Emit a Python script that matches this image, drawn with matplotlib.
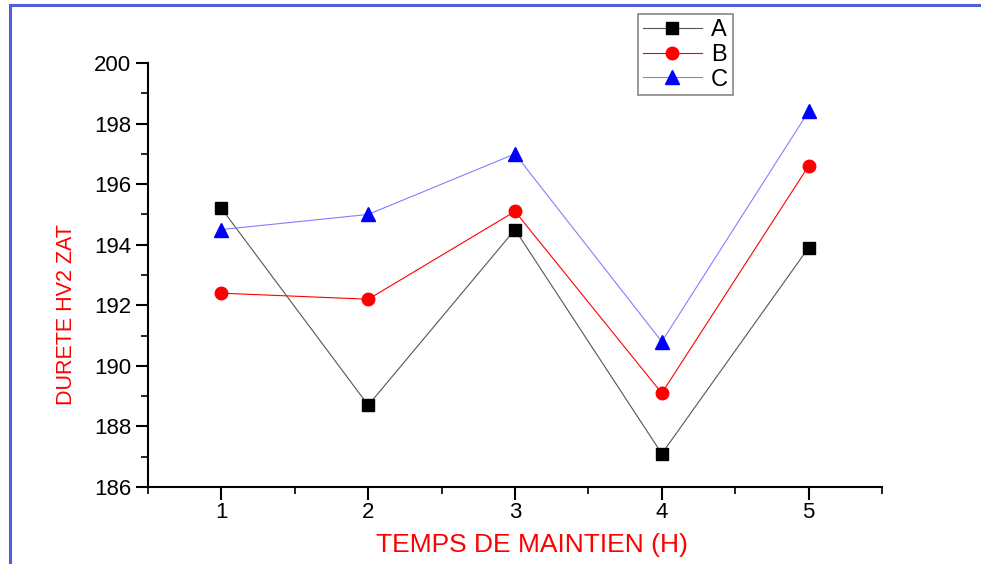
import matplotlib
matplotlib.use("Agg")
import matplotlib.pyplot as plt
from matplotlib.lines import Line2D
from matplotlib.ticker import MultipleLocator

plt.rcParams['font.family'] = ['Liberation Sans', 'DejaVu Sans']

temps = [1, 2, 3, 4, 5]
serie_a = [195.2, 188.7, 194.5, 187.1, 193.9]
serie_b = [192.4, 192.2, 195.1, 189.1, 196.6]
serie_c = [194.5, 195.0, 197.0, 190.8, 198.4]

fig = plt.figure(figsize=(9.81, 5.64), dpi=100)
ax = fig.add_axes([148 / 981, 77 / 564, 734 / 981, 424 / 564])

ax.plot(temps, serie_a, color='#555555', lw=0.8, marker='s', ms=8,
        mfc='black', mec='black', label='A')
ax.plot(temps, serie_b, color='red', lw=0.8, marker='o', ms=9,
        mfc='red', mec='red', label='B')
ax.plot(temps, serie_c, color='#8080ff', lw=0.8, marker='^', ms=10,
        mfc='blue', mec='blue', label='C')

ax.set_xlim(0.5, 5.5)
ax.set_ylim(186, 200)
ax.xaxis.set_major_locator(MultipleLocator(1))
ax.xaxis.set_minor_locator(MultipleLocator(0.5))
ax.yaxis.set_major_locator(MultipleLocator(2))
ax.yaxis.set_minor_locator(MultipleLocator(1))
ax.set_xticks([1, 2, 3, 4, 5])
ax.tick_params(which='major', direction='out', length=9, width=1.5,
               labelsize=16, pad=3)
ax.tick_params(axis='x', which='major', pad=2)
ax.tick_params(which='minor', direction='out', length=5, width=1.2)
ax.spines['top'].set_visible(False)
ax.spines['right'].set_visible(False)
ax.spines['left'].set_linewidth(1.5)
ax.spines['bottom'].set_linewidth(1.5)

ax.set_xlabel('TEMPS DE MAINTIEN (H)', color='red', fontsize=19)
ax.set_ylabel('DURETE HV2 ZAT', color='red', fontsize=15.5)
ax.xaxis.label.set_va('center')
ax.yaxis.label.set_va('center')
ax.xaxis.set_label_coords(0.523, -0.137)
ax.yaxis.set_label_coords(-0.111, 0.406)

leg = ax.legend(loc='upper left', bbox_to_anchor=(490 / 734, 1.115),
                fontsize=17, frameon=True, fancybox=False, framealpha=1,
                edgecolor='#888888', handlelength=2.5, borderpad=0.2,
                labelspacing=0.12, handletextpad=0.4, borderaxespad=0)
leg.get_frame().set_linewidth(1.2)

# blue frame on the left and top edges
fig.add_artist(Line2D([9.5 / 981, 9.5 / 981], [0, 1 - 5 / 564], color='#4f5fd8',
                      lw=2.2, transform=fig.transFigure))
fig.add_artist(Line2D([9.5 / 981, 1], [1 - 5 / 564, 1 - 5 / 564], color='#4f5fd8',
                      lw=2.2, transform=fig.transFigure))

fig.savefig('out.png', dpi=100)
